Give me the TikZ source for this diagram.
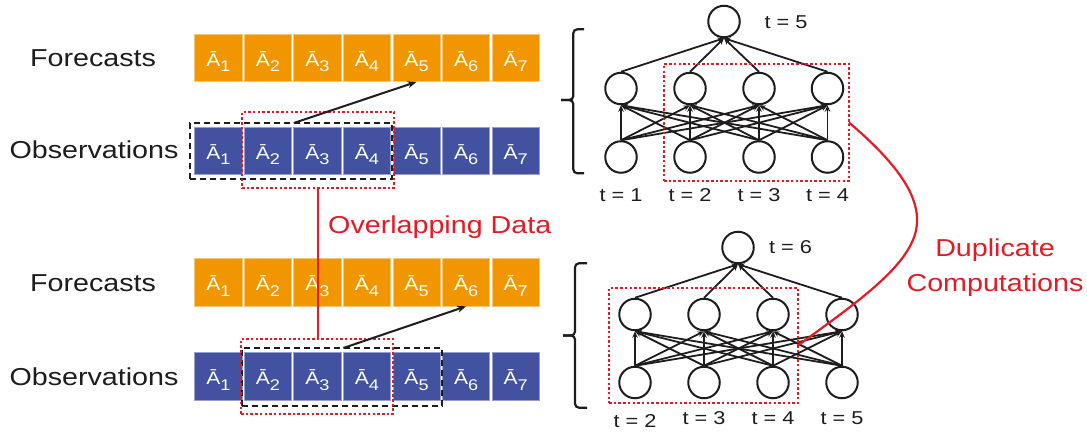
\documentclass[tikz,border=0pt]{standalone}
\usepackage{fontspec}
\setmainfont[FakeStretch=1.17]{Liberation Sans}
\usetikzlibrary{arrows.meta,calc}
\definecolor{orng}{RGB}{242,150,0}
\definecolor{blu}{RGB}{66,82,160}
\definecolor{redc}{RGB}{228,26,36}
\definecolor{ink}{RGB}{30,28,28}
% A-bar with a lowered index
\newcommand\Asub[1]{Ā\raisebox{-5.7pt}{\fontsize{15.5}{15.5}\selectfont #1}}

\begin{document}
\begin{tikzpicture}[x=1pt,y=-1pt,
  cell/.style={rectangle,inner sep=0pt,outer sep=0pt,minimum width=47.3pt,
    minimum height=47.7pt,text=white,line width=0.8pt,
    font=\fontsize{18}{18}\selectfont,text height=16.5pt,text depth=0pt},
  fbox/.style={cell,fill=orng,draw=orng!55!white},
  obox/.style={cell,fill=blu,draw=blu!55!white},
  rowlab/.style={anchor=base,inner sep=0pt,text=ink,font=\fontsize{24.5}{24.5}\selectfont},
  redlab/.style={inner sep=0pt,text=redc,font=\fontsize{24.5}{24.5}\selectfont},
  tlab/.style={anchor=base,inner sep=0pt,text=ink,font=\fontsize{18.6}{18.6}\selectfont},
  neuron/.style={circle,draw=ink,line width=2pt,fill=white,minimum size=31.5pt,inner sep=0pt},
  edge/.style={draw=ink,line width=1.8pt,-{Stealth[length=6.5pt,width=5.5pt]}},
  window/.style={rectangle,draw=ink,line width=1.9pt,dash pattern=on 6pt off 4pt,
    inner sep=0pt,outer sep=0pt},
  overlap/.style={rectangle,draw=redc,line width=2.5pt,dash pattern=on 2.5pt off 2.2pt,
    inner sep=0pt,outer sep=0pt},
  redline/.style={draw=redc,line width=2.2pt},
  fwdarrow/.style={draw=ink,line width=2pt,-{Stealth[length=9pt,width=7pt]}},
  brk/.style={draw=ink,line width=2.2pt,rounded corners=4pt}
]
\useasboundingbox (0,0) rectangle (1087,434);

% ---- rows of cells ----
\foreach \i in {1,...,7}{
  \pgfmathsetmacro\cx{218.35+49.55*(\i-1)}
  \node[fbox] (tf\i) at (\cx,58) {\Asub{\i}};
  \node[obox] (to\i) at (\cx,151) {\Asub{\i}};
  \node[fbox] (bf\i) at (\cx,282.5) {\Asub{\i}};
  \node[obox] (bo\i) at (\cx,376.5) {\Asub{\i}};
}

% ---- row labels ----
\node[rowlab] (lf1) at (93,66.5) {Forecasts};
\node[rowlab] (lo1) at (94,158.5) {Observations};
\node[rowlab] (lf2) at (93,291) {Forecasts};
\node[rowlab] (lo2) at (94,385) {Observations};

% ---- input windows and shared part ----
\node[window,minimum width=202pt,minimum height=56pt] (win1) at (291,151) {};
\node[window,minimum width=200pt,minimum height=58pt] (win2) at (342,377) {};
\node[overlap,minimum width=152pt,minimum height=76pt] (ov1) at (318,150) {};
\node[overlap,minimum width=152pt,minimum height=75pt] (ov2) at (317,376.5) {};

\draw[fwdarrow] (to3.west |- win1.north) -- (tf5.south);
\draw[fwdarrow] (bo4.west |- win2.north) -- (bf6.south);

\draw[redline] (ov1.south) -- (ov1.south |- ov2.north);
\node[redlab,anchor=base west] (ovl) at (328,233) {Overlapping Data};

% ---- upper network ----
\node[neuron] (ta) at (724,21.5) {};
\node[tlab] (tt) at (786,28.5) {t = 5};
\foreach \x [count=\k] in {621,690,759,827.5}{
  \node[neuron] (th\k) at (\x,88.5) {};
  \node[neuron] (ti\k) at (\x,157) {};
  \node[tlab] (tl\k) at (\x,201) {t = \k};
}
\foreach \i in {1,...,4}{
  \foreach \j in {1,...,4}{
    \draw[edge] (ti\i.north) -- (th\j.south);
  }
  \draw[edge] (th\i.north) -- (ta.south);
}

% ---- lower network ----
\node[neuron] (ba) at (738,247.5) {};
\node[tlab] (bt) at (790.5,253.5) {t = 6};
\foreach \x/\yy [count=\k] in {635/427,704/424,773/424,842/424}{
  \pgfmathtruncatemacro\tv{\k+1}
  \node[neuron] (bh\k) at (\x,314.5) {};
  \node[neuron] (bi\k) at (\x,382.5) {};
  \node[tlab] (bl\k) at (\x,\yy) {t = \tv};
}
\foreach \i in {1,...,4}{
  \foreach \j in {1,...,4}{
    \draw[edge] (bi\i.north) -- (bh\j.south);
  }
  \draw[edge] (bh\i.north) -- (ba.south);
}

% ---- braces ----
\draw[brk] (584,29.3) -- (573.3,29.3) -- (573.3,100) -- (561,100);
\draw[brk] (561,100) -- (573.3,100) -- (573.3,173.3) -- (584,173.3);
\draw[brk] (587,263.3) -- (575,263.3) -- (575,335.5) -- (563,335.5);
\draw[brk] (563,335.5) -- (575,335.5) -- (575,407.7) -- (587,407.7);

% ---- repeated hidden units ----
\node[overlap,minimum width=185pt,minimum height=117pt] (dup1) at (756.5,122.5) {};
\node[overlap,minimum width=189pt,minimum height=115pt] (dup2) at (703.5,345.5) {};
\coordinate (bend) at (917,222);
\draw[redline] (dup1.east) .. controls (905,170) and (918,200) .. (bend)
  .. controls (916,262) and (860,300) .. (dup2.east);
\node[redlab,anchor=base] (dl1) at (995,256.7) {Duplicate};
\node[redlab,anchor=base] (dl2) at (995,291.7) {Computations};
\end{tikzpicture}
\end{document}
